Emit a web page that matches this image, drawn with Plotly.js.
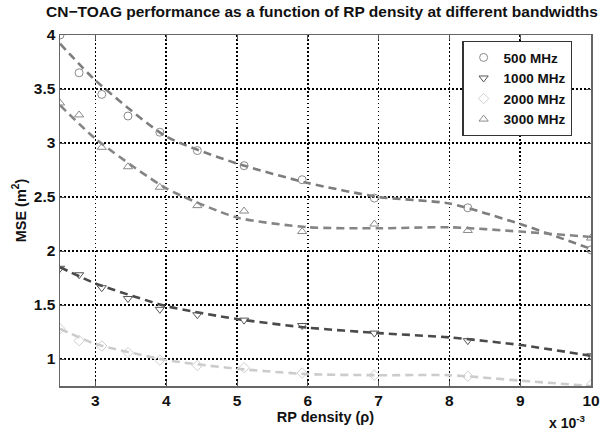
<!DOCTYPE html>
<html>
<head>
<meta charset="utf-8">
<script src="https://cdn.plot.ly/plotly-3.0.1.min.js"></script>
<style>html,body{margin:0;padding:0;background:#fff;}#chart{width:611px;height:433px;}</style>
</head>
<body>
<div id="chart"></div>
<script>
// RP density (x 10^-3) at which results were computed
const density = [2.50, 2.77, 3.09, 3.46, 3.91, 4.44, 5.10, 5.92, 6.94, 8.26, 10.0];
// Measured MSE (m^2)
const mse500  = [4.00, 3.65, 3.45, 3.25, 3.10, 2.93, 2.79, 2.66, 2.49, 2.40, 2.01];
const mse1000 = [1.84, 1.78, 1.66, 1.56, 1.46, 1.41, 1.36, 1.31, 1.24, 1.17, 1.03];
const mse2000 = [1.28, 1.17, 1.12, 1.06, 0.99, 0.94, 0.92, 0.87, 0.85, 0.84, 0.76];
const mse3000 = [3.37, 3.26, 2.96, 2.78, 2.59, 2.42, 2.37, 2.18, 2.25, 2.19, 2.12];
// Fitted (dashed) curves
const fitX    = [2.5, 3, 4, 5, 6, 7, 8, 9, 10];
const fit500  = [3.92, 3.58, 3.06, 2.81, 2.63, 2.50, 2.44, 2.25, 2.02];
const fit1000 = [1.85, 1.70, 1.49, 1.37, 1.29, 1.24, 1.20, 1.13, 1.03];
const fit2000 = [1.28, 1.14, 0.99, 0.91, 0.86, 0.85, 0.85, 0.80, 0.75];
const fit3000 = [3.35, 3.04, 2.58, 2.31, 2.22, 2.21, 2.22, 2.18, 2.13];
const names = ['500 MHz', '1000 MHz', '2000 MHz', '3000 MHz'];
const xTicks = [3, 4, 5, 6, 7, 8, 9, 10];
const yTicks = [1, 1.5, 2, 2.5, 3, 3.5, 4];
const xRange = [2.5, 10];
const yRange = [0.75, 4];

const markerColors = ['#8a8a8a', '#555555', '#cfcfcf', '#8a8a8a'];
const lineColors = ['#7d7d7d', '#4a4a4a', '#cccccc', '#858585'];
const symbols = ['circle-open', 'triangle-down-open', 'diamond-open', 'triangle-up-open'];
const mses = [mse500, mse1000, mse2000, mse3000];
const fits = [fit500, fit1000, fit2000, fit3000];

const traces = [];
for (let i = 0; i < 4; i++) {
  traces.push({
    x: fitX, y: fits[i], mode: 'lines', type: 'scatter', showlegend: false,
    line: {color: lineColors[i], width: 2.6, dash: '8px,5px', shape: 'spline', smoothing: 0.6},
    hoverinfo: 'skip'
  });
}
for (let i = 0; i < 4; i++) {
  traces.push({
    x: density, y: mses[i], mode: 'markers', type: 'scatter', name: '<b>' + names[i] + '</b>',
    marker: {symbol: symbols[i], size: 8, color: markerColors[i], line: {width: 1, color: markerColors[i]}}
  });
}

const fam = 'Liberation Sans, Arial, sans-serif';
const layout = {
  width: 611, height: 433,
  margin: {l: 60, r: 20, t: 35, b: 47},
  paper_bgcolor: '#fff', plot_bgcolor: '#fff',
  font: {family: fam, color: '#111'},
  title: {text: '<b>CN−TOAG performance as a function of RP density at different bandwidths</b>',
          font: {family: fam, size: 15.5, color: '#111'}, x: 0.527, xanchor: 'center', y: 0.985, yanchor: 'top'},
  xaxis: {
    range: xRange, tickvals: xTicks, ticktext: xTicks.map(v => '<b>' + v + '</b>'),
    ticks: 'inside', ticklen: 5, tickcolor: '#555', showline: true, linecolor: '#666', linewidth: 1.5, mirror: 'ticks',
    showgrid: true, gridcolor: '#000000', gridwidth: 1.5, griddash: '1.5px,2.5px', zeroline: false,
    tickfont: {family: fam, size: 15.5, color: '#111'},
    title: {text: '<b>RP density (ρ)</b>', font: {family: fam, size: 14.5, color: '#111'}, standoff: 2}
  },
  yaxis: {
    range: yRange, tickvals: yTicks, ticktext: yTicks.map(v => '<b>' + v + '</b>'),
    ticks: 'inside', ticklen: 5, tickcolor: '#555', showline: true, linecolor: '#666', linewidth: 1.5, mirror: 'ticks',
    showgrid: true, gridcolor: '#000000', gridwidth: 1.5, griddash: '1.5px,2.5px', zeroline: false,
    tickfont: {family: fam, size: 15.5, color: '#111'},
    title: {text: '<b>MSE (m<sup>2</sup>)</b>', font: {family: fam, size: 14.5, color: '#111'}, standoff: 4}
  },
  legend: {
    x: 0.965, xanchor: 'right', y: 0.983, yanchor: 'top',
    bgcolor: '#fff', bordercolor: '#333', borderwidth: 1.2,
    font: {family: fam, size: 13.5, color: '#111'},
    tracegroupgap: 0, itemwidth: 30
  },
  annotations: [{
    text: '<b>x 10<sup>-3</sup></b>', xref: 'paper', yref: 'paper', x: 0.994, y: -0.134,
    xanchor: 'right', yanchor: 'bottom', showarrow: false,
    font: {family: fam, size: 14, color: '#111'}
  }]
};
Plotly.newPlot('chart', traces, layout, {displayModeBar: false, staticPlot: true});
</script>
</body>
</html>
